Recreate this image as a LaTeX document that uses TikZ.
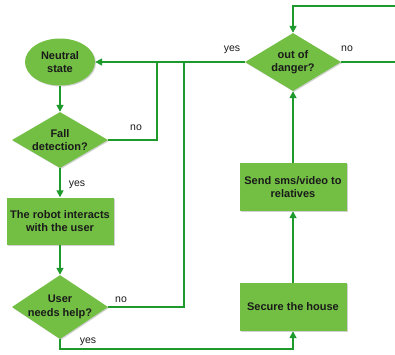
\documentclass[tikz,border=0pt]{standalone}
\usepackage{fontspec}
\setmainfont{Liberation Sans}
\usetikzlibrary{shapes.geometric,arrows.meta,shadows}
\definecolor{boxfill}{HTML}{72BF44}
\definecolor{linegreen}{HTML}{1E9A2C}
\definecolor{txt}{HTML}{1A1A1A}
\tikzset{
  x=1pt, y=-1pt,
  softshadow/.style={drop shadow={opacity=0.3, shadow xshift=1pt, shadow yshift=-1pt, fill=black!60}},
  boxfont/.style={font=\fontsize{11}{13.5}\selectfont\bfseries, text=txt, align=center},
  boxtext/.style={boxfont, fill=boxfill, draw=none, inner sep=0pt, softshadow},
  rectbox/.style={boxtext, rectangle, minimum width=107pt, minimum height=47pt},
  ellbox/.style={boxtext, ellipse, minimum width=70pt, minimum height=47pt},
  decbox/.style={fill=boxfill, draw=none, inner sep=0pt, diamond, softshadow},
  intext/.style={label={[boxfont, inner sep=0pt]center:#1}},
  conn/.style={draw=linegreen, line width=1.6pt},
  arr/.style={conn, -{Triangle[length=7pt,width=7pt]}},
  lbl/.style={font=\fontsize{10.5}{12}\selectfont, text=txt, inner sep=0pt}
}
\begin{document}
\begin{tikzpicture}
\useasboundingbox (0,0) rectangle (395,354);
\node[ellbox] (ell) at (60,62) {Neutral\\state};
\node[decbox, minimum width=96pt, minimum height=56pt, intext={Fall\\detection?}] (fall) at (60,140) {};
\node[rectbox] (robot) at (60,221) {The robot interacts\\with the user};
\node[decbox, minimum width=96pt, minimum height=64pt, intext={User\\needs help?}] (user) at (60,307) {};
\node[rectbox, minimum height=48pt] (secure) at (293,307) {Secure the house};
\node[rectbox, minimum height=48pt] (sms) at (293,187) {Send sms/video to\\relatives};
\node[decbox, minimum width=96pt, minimum height=58pt, intext={out of\\danger?}] (out) at (293,62) {};

\coordinate (noend) at (396,62);
\coordinate (topend) at (396,6);
\coordinate (j1) at (157,62);
\coordinate (j2) at (184,62);

\draw[arr] (ell) -- (fall);
\draw[arr] (fall) -- (robot);
\draw[arr] (robot) -- (user);
\draw[conn] (fall.east) -| (j1);
\draw[conn] (user.east) -| (j2);
\draw[arr] (out.west) -- (ell.east);
\draw[arr] (user.south) |- (293,349) -- (secure.south);
\draw[arr] (secure) -- (sms);
\draw[arr] (sms) -- (out);
\draw[conn] (out.east) -- (noend);
\draw[arr] (topend) -| (out.north);

\node[lbl] (l1) at (77,185) {yes};
\node[lbl] (l2) at (136,128) {no};
\node[lbl] (l3) at (121,300) {no};
\node[lbl] (l4) at (88,342) {yes};
\node[lbl] (l5) at (232,50) {yes};
\node[lbl] (l6) at (347,49) {no};
\end{tikzpicture}
\end{document}
